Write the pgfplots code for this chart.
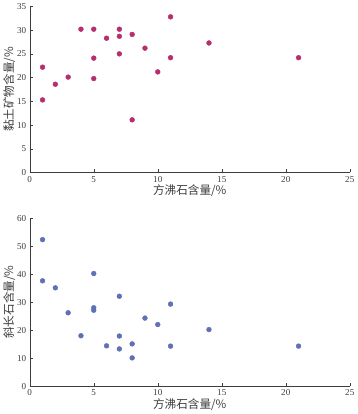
\documentclass[border=0pt]{standalone}
\usepackage{pgfplots}
\pgfplotsset{compat=1.18}
\usepackage{fontspec}
\setmainfont{Liberation Serif}
\newfontfamily\cjk{Noto Sans CJK SC}
\definecolor{mag}{RGB}{183,45,110}
\definecolor{blu}{RGB}{95,112,180}
\definecolor{axc}{RGB}{60,60,60}
\begin{document}
\begin{tikzpicture}
\pgfplotsset{
  myax/.style={
    scale only axis, width=316bp,
    xmin=0, xmax=25,
    axis x line*=bottom, axis y line*=left,
    axis line style={axc, -},
    tick align=inside,
    major tick length=3bp,
    tick style={axc},
    xtick={0,5,...,25},
    tick label style={font=\fontsize{9}{9}\selectfont, text=axc},
    /pgf/number format/assume math mode=true,
    label style={font=\cjk\fontsize{11.5}{11.5}\selectfont, text=axc},
    xlabel={方沸石含量/\%},
    xlabel style={yshift=4bp},
    ylabel style={yshift=-5bp},
  }
}
\begin{axis}[myax, name=top, height=164bp, ymin=0, ymax=35, ytick={0,5,...,35},
  ylabel={黏土矿物含量/\%}]
\addplot[only marks, mark=*, mark size=2.4bp, mag, mark options={draw=mag, fill=mag}] coordinates {
(1,22.2) (1,15.3) (2,18.6) (3,20.1) (4,30.2) (5,30.2) (5,24.1) (5,19.8) (6,28.3) (7,30.2)
(7,28.7) (7,25) (8,29.1) (8,11.1) (9,26.2) (10,21.2) (11,32.8) (11,24.2) (14,27.3) (21,24.2)};
\end{axis}
\begin{axis}[myax, at={(0,-45bp)}, anchor=north west, height=166bp, ymin=0, ymax=60, ytick={0,10,...,60},
  ylabel={斜长石含量/\%}]
\addplot[only marks, mark=*, mark size=2.4bp, blu, mark options={draw=blu, fill=blu}] coordinates {
(1,52.3) (1,37.6) (2,35.1) (3,26.2) (4,18) (5,40.2) (5,28) (5,27.1) (6,14.4) (7,32.1)
(7,17.9) (7,13.3) (8,15.1) (8,10.1) (9,24.3) (10,22) (11,29.3) (11,14.3) (14,20.2) (21,14.3)};
\end{axis}
\end{tikzpicture}
\end{document}
